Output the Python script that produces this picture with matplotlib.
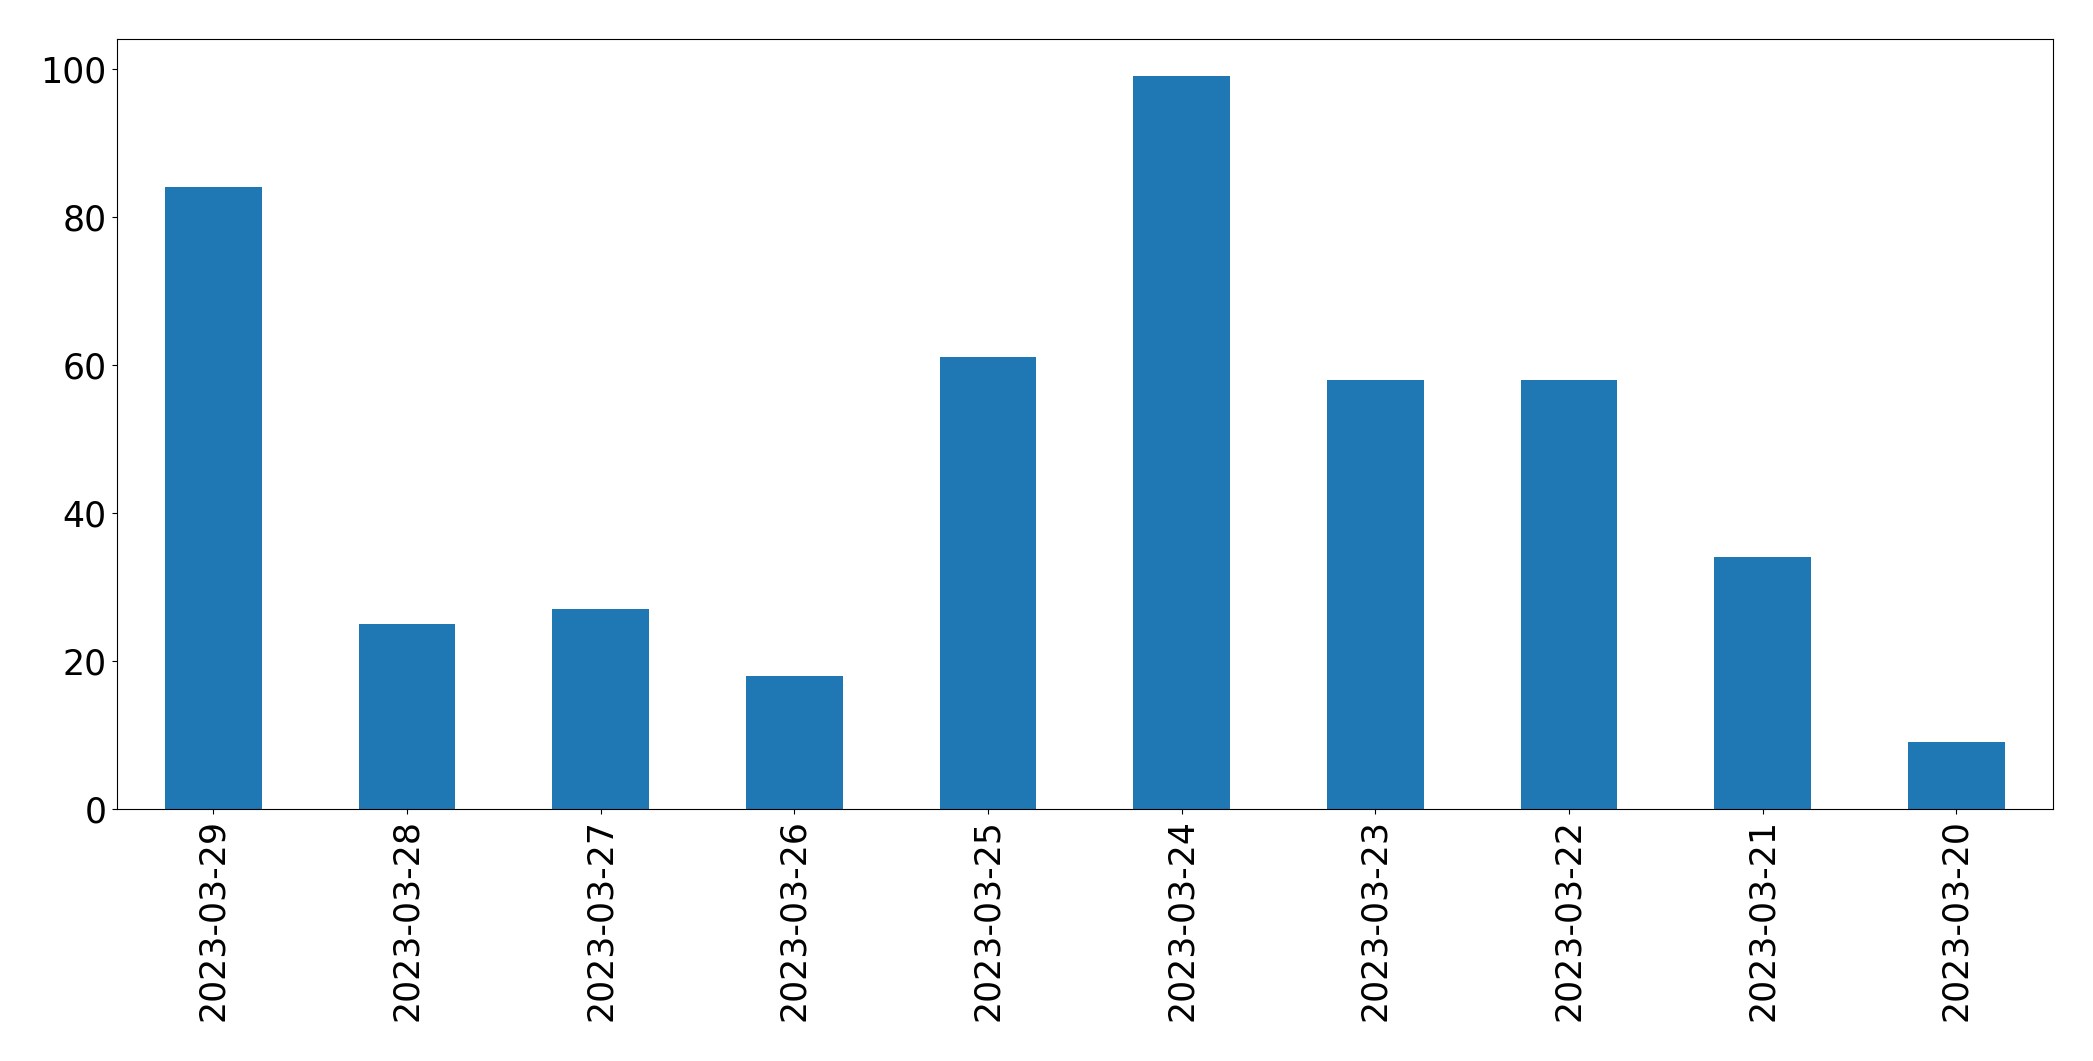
import pandas as pd
import matplotlib
matplotlib.use("Agg")
import matplotlib.pyplot as plt

# conteo por dia, orden como en la grafica
fechas = ["2023-03-29", "2023-03-28", "2023-03-27", "2023-03-26", "2023-03-25",
          "2023-03-24", "2023-03-23", "2023-03-22", "2023-03-21", "2023-03-20"]
conteos = [84, 25, 27, 18, 61, 99, 58, 58, 34, 9]

serie = pd.Series(conteos, index=fechas)

fig = plt.figure(figsize=(20.93, 10.61), dpi=100)
ax = fig.add_axes([0.0557, 0.2375, 0.9809 - 0.0557, 0.9628 - 0.2375])
serie.plot(kind="bar", ax=ax, color="#1f77b4")
ax.tick_params(axis="both", labelsize=25)
ax.set_xlabel("")

fig.savefig("out.png", dpi=100)
plt.close()
